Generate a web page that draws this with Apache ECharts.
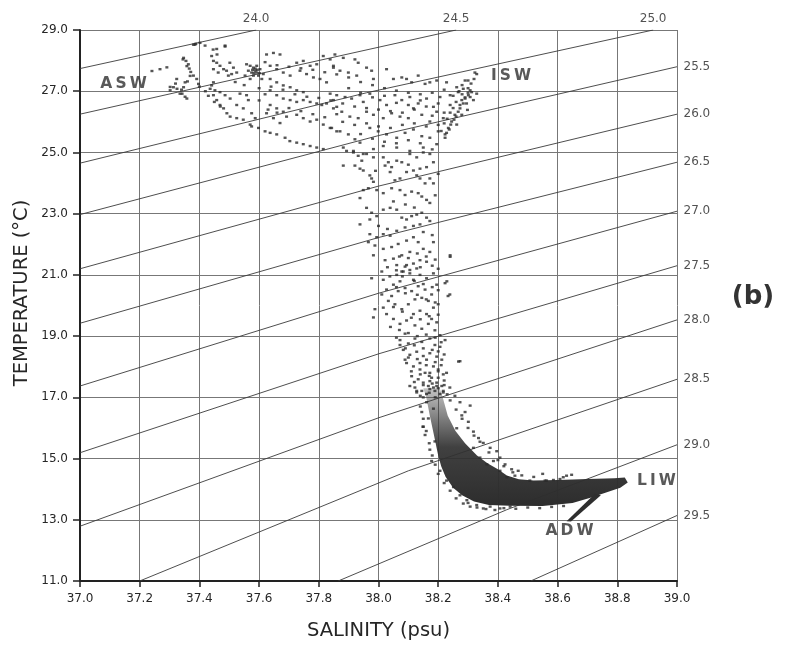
<!DOCTYPE html>
<html><head><meta charset="utf-8">
<script src="https://cdn.jsdelivr.net/npm/echarts/dist/echarts.min.js"></script>
<style>html,body{margin:0;padding:0;background:#fff}#c{width:797px;height:646px}</style>
</head><body><div id="c"></div>
<script>
// ---- axis extents / ticks ----
const salinityRange = [37.0, 39.0];
const salinityStep = 0.2;
const temperatureRange = [11.0, 29.0];
const temperatureStep = 2.0;

// ---- isopycnal (sigma-t) lines as [S, T] vertices ----
const sigmaLabels = ['24.0','24.5','25.0','25.5','26.0','26.5','27.0','27.5','28.0','28.5','29.0','29.5'];
const isopycnals = [
  [[37.0,27.74],[37.59,29.0]],
  [[37.0,26.25],[37.6,27.57],[38.26,29.0]],
  [[37.0,24.65],[37.96,26.95],[38.92,29.0]],
  [[37.0,22.97],[38.0,25.55],[39.0,27.8]],
  [[37.0,21.2],[38.0,23.9],[39.0,26.25]],
  [[37.0,19.42],[38.0,22.22],[39.0,24.68]],
  [[37.0,17.37],[38.0,20.40],[39.0,23.08]],
  [[37.0,15.19],[38.0,18.42],[39.0,21.3]],
  [[37.0,12.79],[38.0,16.33],[39.0,19.53]],
  [[37.2,11.0],[38.1,14.6],[39.0,17.59]],
  [[37.865,11.0],[38.43,13.33],[39.0,15.45]],
  [[38.51,11.0],[39.0,13.14]]
];

// ---- water mass labels ----
const waterMassNames = ['A\u2009S\u2009W','I\u2009S\u2009W','L\u2009I\u2009W','A\u2009D\u2009W'];
const waterMassPos = [[37.146,27.24],[38.444,27.51],[38.931,14.28],[38.640,12.62]];

// ---- dense core (outline of the dark mass: bend + LIW tongue) and ADW tail ----
const denseCore = [[38.150,17.3],[38.160,17.0],[38.172,16.4],[38.185,15.8],[38.200,15.1],[38.210,14.75],[38.225,14.40],[38.250,14.05],[38.280,13.80],[38.320,13.60],[38.370,13.48],[38.440,13.46],[38.550,13.45],[38.650,13.55],[38.710,13.72],[38.765,13.90],[38.810,14.05],[38.835,14.22],[38.825,14.38],[38.790,14.36],[38.700,14.33],[38.600,14.30],[38.520,14.28],[38.470,14.32],[38.430,14.45],[38.400,14.65],[38.365,14.85],[38.330,15.10],[38.290,15.5],[38.258,15.9],[38.232,16.4],[38.215,17.0],[38.205,17.3]];
const adwTail = [[38.725,13.85],[38.745,13.80],[38.645,12.94],[38.630,12.95]];

// ---- scattered CTD samples [S, T] ----
const surfacePoints = [
[37.241,27.66],[37.268,27.72],[37.291,27.78],[37.302,27.14],[37.325,27.08],[37.342,26.92],[37.352,26.82],[37.345,28.04],[37.358,27.82],[37.369,27.5],[37.385,28.52],[37.402,28.58],[37.446,28.36],[37.459,28.2],[37.486,28.46],
[37.380,28.52],[37.419,28.49],[37.458,28.38],[37.486,28.49],[37.388,28.55],
[37.347,28.09],[37.355,27.99],[37.363,27.88],[37.366,27.74],[37.371,27.63],[37.380,27.51],[37.391,27.40],[37.397,27.24],[37.324,27.40],[37.352,27.29],[37.347,27.13],[37.313,27.13],[37.302,27.03],[37.335,26.92],[37.358,26.76],
[37.441,28.15],[37.447,27.99],[37.458,27.93],[37.469,27.83],[37.481,27.72],[37.447,27.72],[37.463,27.61],[37.491,27.67],[37.497,27.51],[37.508,27.56],[37.525,27.61],[37.514,27.77],[37.502,27.93],
[37.558,27.88],[37.570,27.83],[37.581,27.77],[37.587,27.67],[37.592,27.61],[37.575,27.61],[37.598,27.51],[37.564,27.67],[37.603,27.72],[37.581,27.51],[37.609,27.40],[37.553,27.51],[37.570,27.40],[37.614,27.56],[37.592,27.83],[37.587,27.74],[37.594,27.70],[37.578,27.70],[37.601,27.59],[37.583,27.59],
[37.436,27.08],[37.447,26.87],[37.458,26.71],[37.469,26.55],[37.481,26.44],[37.492,26.28],[37.503,26.17],[37.525,26.12],[37.547,26.07],[37.570,25.91],[37.447,27.29],[37.441,27.19],[37.452,27.03],[37.469,26.97],[37.486,26.87],[37.503,26.76],[37.536,26.92],[37.558,26.87],[37.564,26.71],[37.525,26.55],[37.547,26.44],[37.575,26.28],[37.587,26.12],
[37.575,25.85],[37.598,25.80],[37.620,25.69],[37.637,25.64],[37.659,25.59],[37.687,25.48],[37.703,25.37],[37.726,25.32],[37.748,25.27],[37.771,25.21],[37.793,25.16],[37.815,25.11],
[37.625,28.20],[37.648,28.25],[37.670,28.20],[37.637,27.83],[37.659,27.72],[37.681,27.61],[37.704,27.51],[37.726,27.93],[37.748,27.99],[37.771,27.83],[37.793,27.88],[37.815,28.15],[37.838,28.04],[37.849,27.83],[37.737,27.67],[37.759,27.56],[37.782,27.45],[37.804,27.40],[37.826,27.29],
[37.637,27.40],[37.659,27.29],[37.681,27.19],[37.704,27.13],[37.726,27.03],[37.748,26.97],[37.637,27.03],[37.659,26.87],[37.681,26.76],[37.704,26.71],[37.726,26.65],[37.748,26.71],[37.771,26.65],[37.793,26.60],[37.810,26.55],[37.826,26.60],[37.849,26.71],[37.860,26.49],
[37.637,26.55],[37.659,26.44],[37.681,26.33],[37.692,26.17],[37.726,26.23],[37.748,26.12],[37.771,26.01],[37.793,26.07],[37.815,25.91],[37.838,25.80],[37.860,25.69],[37.648,26.12],[37.670,25.96],[37.625,26.28],
[37.854,28.20],[37.882,28.09],[37.921,28.04],[37.932,27.93],[37.849,27.77],[37.871,27.67],[37.899,27.61],[37.927,27.51],[37.960,27.77],[37.977,27.67],[37.983,27.40],[38.027,27.72],[38.050,27.40],[38.078,27.45],[38.094,27.40],[38.111,27.29],[38.133,27.51],[38.156,27.24],[38.172,27.29],[38.195,27.35],[38.228,27.29],[38.262,27.13],[38.284,27.08],[38.307,27.03],[38.323,27.61],[38.290,27.35],[38.329,27.56],[38.300,27.35],
[37.838,26.92],[37.860,26.87],[37.888,26.81],[37.910,26.76],[37.938,26.87],[37.949,26.65],[37.971,26.92],[38.005,26.71],[38.027,26.55],[38.055,26.87],[38.078,26.71],[38.105,26.81],[38.133,26.60],[38.161,26.76],[38.184,26.49],[38.206,26.81],[38.240,26.87],[38.267,26.97],[38.279,26.71],[38.295,26.60],[38.307,26.81],[38.273,26.44],[38.256,26.23],[38.245,26.01],[38.234,25.80],[38.223,25.59],
[37.849,26.44],[37.877,26.33],[37.904,26.17],[37.932,26.12],[37.960,26.33],[37.983,26.23],[38.016,26.12],[38.044,26.28],[38.072,26.17],[38.100,26.12],[38.117,26.44],[38.145,26.23],[38.172,26.01],[38.195,26.33],[38.217,26.12],
[37.843,25.80],[37.871,25.69],[37.899,25.59],[37.921,25.43],[37.938,25.32],[37.971,25.80],[37.999,25.69],[38.027,25.59],[38.061,25.48],[38.089,25.64],[38.117,25.75],[38.145,25.53],[38.172,25.48],[38.200,25.69],[38.195,25.27],[38.150,25.16],[38.105,25.05],[38.061,25.16],[38.016,25.21],[37.983,25.11],[37.916,25.05],[37.882,25.16],[37.949,24.95],
[38.312,26.97],[38.301,26.87],[38.290,26.76],[38.284,26.60],[38.273,26.55],[38.267,26.33],[38.260,26.17],[38.253,26.07],[38.242,25.91],[38.237,25.75],[38.228,25.64],[38.223,25.48],[38.329,26.92],[38.318,26.71],[38.298,26.39],[38.279,26.23],[38.262,25.91],
[37.62,27.95],[37.66,27.85],[37.70,27.80],[37.74,27.75],[37.78,27.70],[37.82,27.62],[37.86,27.55],[37.90,27.45],[37.94,27.30],[37.98,27.20],[38.02,27.10],[38.06,27.02],[38.10,26.95],[38.14,26.90],[38.18,26.95],[38.22,27.05],
[37.64,27.15],[37.68,27.05],[37.72,26.90],[37.76,26.82],[37.80,26.78],[37.84,26.70],[37.88,26.60],[37.92,26.50],[37.96,26.45],[38.00,26.40],[38.04,26.35],[38.08,26.30],[38.12,26.40],[38.16,26.50],[38.20,26.60],
[37.90,27.10],[37.94,26.95],[37.98,26.80],[38.02,26.85],[38.06,26.62],[38.10,26.55],[38.14,26.70],[38.18,26.20],[38.22,26.30],[38.24,26.55],
[37.88,26.0],[37.92,25.90],[37.96,25.95],[38.00,25.85],[38.04,25.80],[38.08,25.90],[38.12,25.95],[38.16,25.85],[38.20,25.90],[37.94,25.60],[37.98,25.45],[38.02,25.35],[38.06,25.30],[38.10,25.40],[38.14,25.30],[38.18,25.10],
[37.52,27.30],[37.55,27.20],[37.60,27.10],[37.62,26.90],[37.60,26.70],[37.63,26.40],[37.66,26.30],[37.70,26.45],[37.74,26.35],[37.78,26.25],[37.82,26.15],[37.86,26.25],
[37.36,27.32],[37.40,27.15],[37.42,27.00],[37.43,26.85],[37.45,26.65],[37.47,26.50],[37.32,27.25],[37.34,27.05],
[38.30,27.10],[38.31,27.25],[38.32,27.40],[38.28,27.20],[38.27,27.00],[38.25,26.85],[38.26,26.65],[38.25,26.45],[38.24,26.30],[38.23,26.10],[38.22,25.95],[38.21,25.70],[38.30,26.95],[38.29,26.80],[38.28,26.90]
];
const columnPoints = [
[37.893,25.05],[37.916,25.00],[37.932,24.89],[37.944,24.73],[37.921,24.57],[37.938,24.47],[37.949,24.41],[37.882,24.57],[37.960,24.95],[37.983,24.84],[38.016,24.84],[38.033,24.68],[38.044,24.52],[38.061,24.73],[38.078,24.68],[38.105,24.95],[38.128,24.84],[38.150,25.00],[38.172,24.95],[38.184,24.68],[38.161,24.52],[38.139,24.47],[38.117,24.41],[38.094,24.36],[38.072,24.15],[38.055,24.09],[38.039,24.36],[38.022,24.57],
[37.971,24.25],[37.977,24.15],[37.983,24.04],[37.966,23.83],[37.949,23.77],[37.938,23.51],[37.994,23.77],[38.016,23.67],[38.044,23.83],[38.072,23.77],[38.089,23.61],[38.111,23.72],[38.133,23.67],[38.145,23.56],[38.161,23.45],[38.172,23.35],[38.184,23.99],[38.172,24.15],[38.156,23.99],[38.139,24.15],[38.128,24.25],
[37.960,23.19],[37.977,23.03],[37.994,22.92],[37.971,22.81],[37.938,22.65],[38.016,23.13],[38.039,23.19],[38.061,23.13],[38.078,22.87],[38.094,22.81],[38.111,22.92],[38.128,22.97],[38.145,23.03],[38.161,22.87],[38.172,22.76],[38.139,22.65],[38.117,22.60],[38.089,22.55],[38.061,22.44],[38.039,22.28],[38.016,22.33],[37.994,22.23],[37.971,22.33],
[37.966,22.07],[37.988,21.96],[38.016,21.85],[38.044,21.91],[38.066,22.01],[38.094,22.12],[38.117,22.23],[38.133,22.07],[38.150,21.85],[38.172,21.75],[38.184,22.07],[38.105,21.75],[38.078,21.64],[38.050,21.53],[38.022,21.48],[38.061,21.32],[38.089,21.27],[38.117,21.37],[38.139,21.48],[38.161,21.43],[38.105,21.05],[38.078,21.11],[38.240,21.59],[38.011,21.11],[37.983,21.64],[38.24,21.64],[38.229,20.79],[38.233,20.31],
[37.977,20.89],[38.016,20.84],[38.038,20.95],[38.061,21.00],[38.083,21.11],[38.105,21.16],[38.128,21.21],[38.094,21.32],[38.139,21.00],[38.161,20.89],[38.184,21.05],[38.117,20.84],[38.072,20.79],[38.050,20.68],[38.027,20.52],[38.011,20.36],[38.044,20.31],[38.066,20.47],[38.089,20.57],[38.111,20.47],[38.133,20.63],[38.156,20.52],[38.178,20.36],[38.195,20.68],[38.223,20.73],[38.239,20.36],
[37.988,19.88],[37.983,19.61],[38.016,19.93],[38.033,20.15],[38.055,20.04],[38.078,19.88],[38.100,20.04],[38.122,20.20],[38.145,20.25],[38.167,20.15],[38.184,19.93],[38.200,20.04],[38.117,19.72],[38.139,19.83],[38.161,19.72],[38.178,19.56],[38.195,19.45],[38.094,19.51],[38.072,19.40],[38.050,19.56],[38.027,19.72],
[38.122,19.35],[38.145,19.24],[38.167,19.40],[38.189,19.19],[38.206,19.03],[38.089,19.08],[38.072,18.87],[38.100,18.76],[38.122,18.92],[38.145,18.81],[38.172,18.92],[38.189,18.71],[38.206,18.65],[38.223,18.87],[38.083,18.55],[38.105,18.39],[38.128,18.49],[38.150,18.60],[38.172,18.44],[38.195,18.33],[38.212,18.23],
[38.094,18.12],[38.117,18.01],[38.139,18.12],[38.161,18.23],[38.184,18.01],[38.200,17.91],[38.217,17.75],[38.111,17.69],[38.133,17.59],[38.156,17.80],[38.178,17.64],[38.195,17.48],[38.212,17.37],[38.122,17.32],[38.145,17.21],[38.167,17.37],[38.189,17.21],[38.206,17.11],[38.268,18.17],[38.228,17.80],[38.072,18.71],[38.089,18.23],[38.273,18.18],
[38.150,17.48],[38.172,17.53],[38.200,17.64],[38.184,17.32],[38.161,17.11],[38.128,17.16],[38.217,17.21],[38.139,17.91],[38.172,17.80],
[38.08,20.95],[38.12,20.80],[38.15,20.70],[38.18,20.60],[38.20,20.50],[38.06,20.60],[38.09,20.40],[38.13,20.35],[38.16,20.20],[38.19,20.10],[38.05,19.95],[38.08,19.80],[38.11,19.60],[38.14,19.55],[38.17,19.65],[38.20,19.70],[38.04,19.30],[38.07,19.20],[38.10,19.10],[38.13,19.00],[38.16,19.05],[38.19,18.95],[38.21,18.80],[38.06,18.95],[38.09,18.60],[38.12,18.70],[38.15,18.35],[38.18,18.55],[38.20,18.50],[38.22,18.40],[38.10,18.30],[38.13,18.25],[38.16,18.05],[38.19,18.15],[38.21,18.05],[38.11,17.85],[38.14,17.75],[38.17,17.70],[38.20,17.85],[38.22,17.55],[38.12,17.50],[38.15,17.40],[38.18,17.45],[38.20,17.30],[38.22,17.40],[38.14,17.05],[38.17,17.15],[38.19,17.00],[38.23,17.10],
[38.07,21.60],[38.10,21.55],[38.13,21.70],[38.16,21.60],[38.19,21.50],[38.03,21.25],[38.06,21.15],[38.14,21.25],[38.18,21.30],[38.20,21.20],
[38.00,22.60],[38.03,22.50],[38.15,22.40],[38.18,22.30],[38.05,23.40],[38.09,23.30],[38.12,23.20],[38.19,23.60],[37.99,24.40],[38.10,24.60],[38.20,24.30]
];
const bendPoints = [
[38.105,17.37],[38.128,17.21],[38.150,17.00],[38.172,17.27],[38.195,17.37],[38.217,17.16],[38.239,17.32],[38.256,17.05],[38.273,16.84],[38.307,16.73],[38.290,16.52],[38.279,16.41],[38.301,16.20],[38.150,16.04],[38.262,15.99],[38.318,15.88],[38.335,15.67],[38.351,15.51],[38.374,15.35],[38.396,15.24],[38.407,15.03],[38.424,14.81],[38.446,14.65],[38.468,14.60],[38.457,14.44],[38.507,14.28],[38.558,14.28],
[38.172,15.29],[38.178,14.92],[38.206,14.60],[38.228,14.28],[38.251,14.07],[38.273,13.80],[38.296,13.64],[38.329,13.48],[38.351,13.37],[38.374,13.43],[38.407,13.37],[38.441,13.43],
[38.161,16.84],[38.145,16.52],[38.184,16.63],[38.167,16.31],[38.189,15.56],[38.156,15.77],[38.318,15.35],[38.340,15.03],[38.363,14.81],[38.385,14.92],[38.407,14.60],[38.430,14.39],[38.307,13.43],[38.284,13.53],[38.149,16.04],
[38.619,14.39],[38.630,14.44],[38.647,14.47],[38.608,14.33],[38.563,14.28],[38.586,14.30],
[38.24,16.90],[38.26,16.60],[38.28,16.30],[38.30,16.00],[38.32,15.75],[38.34,15.55],[38.37,15.20],[38.40,14.95],[38.42,14.75],[38.45,14.55],[38.48,14.45],[38.52,14.40],[38.55,14.50],[38.30,13.55],[38.33,13.40],[38.36,13.35],[38.39,13.32],[38.42,13.38],[38.46,13.36],[38.50,13.40],[38.54,13.38],[38.58,13.42],[38.62,13.45],[38.26,13.70],[38.24,13.95],[38.22,14.20],[38.20,14.50],[38.19,14.80],[38.18,15.10],[38.17,15.50],[38.16,15.90],[38.15,16.30],[38.14,16.70]
];

const FONT = 'DejaVu Sans';
const TXT = '#262626';

const chart = echarts.init(document.getElementById('c'), null, {renderer:'canvas'});

function polygonSeries(verts, fill){
  return {
    type:'custom', silent:true, z:3, data: verts,
    renderItem: function(params, api){
      if (params.dataIndex !== 0) return null;
      const pts = verts.map(v => api.coord(v));
      return {type:'polygon', shape:{points:pts}, style:{fill:fill}};
    }
  };
}

const series = [];
isopycnals.forEach((line) => {
  series.push({type:'line', data: line, symbol:'none', silent:true, z:2,
    lineStyle:{color:'#3a3a3a', width:0.9}, animation:false});
});
series.push({type:'scatter', silent:true, z:5, symbolSize:1,
  itemStyle:{color:'rgba(0,0,0,0)'},
  data: isopycnals.map((line, i) => {
    const end = line[line.length-1];
    const top = end[1] >= temperatureRange[1];
    return {value:end, label:{show:true, formatter:sigmaLabels[i], position: top ? 'top':'right', distance: top ? 5 : 6,
      fontFamily:FONT, fontSize:12, color:TXT}};
  })
});
const coreFill = new echarts.graphic.LinearGradient(0, 0, 0, 1, [
  {offset:0, color:'rgba(60,60,60,0.30)'},
  {offset:0.3, color:'rgba(55,55,55,0.70)'},
  {offset:0.5, color:'rgba(48,48,48,0.92)'},
  {offset:1, color:'rgba(45,45,45,1)'}
]);
series.push(polygonSeries(denseCore, coreFill));
series.push(polygonSeries(adwTail, '#2e2e2e'));
[surfacePoints, columnPoints, bendPoints].forEach(arr => {
  series.push({type:'scatter', data:arr, symbol:'rect', symbolSize:[3,2.4], silent:true, z:4,
    itemStyle:{color:'#2b2b2b'}, animation:false});
});
series.push({type:'scatter', silent:true, z:6, symbolSize:1, itemStyle:{color:'rgba(0,0,0,0)'},
  data: waterMassPos.map((p, i) => ({value:p, label:{show:true, formatter:waterMassNames[i], position:'inside',
    fontFamily:FONT, fontWeight:'bold', fontSize:15.5, color:'#303030'}}))
});

chart.setOption({
  animation:false,
  backgroundColor:'#ffffff',
  grid:{left:80, top:30, width:597, height:562.5, containLabel:false},
  xAxis:{type:'value', min:salinityRange[0], max:salinityRange[1], interval:salinityStep,
    axisLine:{show:true, onZero:false, lineStyle:{color:'#222', width:2}},
    axisTick:{show:true, length:6, lineStyle:{color:'#222', width:1.5}},
    axisLabel:{formatter:v=>v.toFixed(1), margin:12, fontFamily:FONT, fontSize:12, color:TXT},
    splitLine:{show:true, lineStyle:{color:'#777', width:1}},
    name:'SALINITY (psu)', nameLocation:'middle', nameGap:40,
    nameTextStyle:{fontFamily:FONT, fontSize:19.5, color:TXT}},
  yAxis:{type:'value', min:temperatureRange[0], max:temperatureRange[1], interval:temperatureStep,
    axisLine:{show:true, onZero:false, lineStyle:{color:'#222', width:2}},
    axisTick:{show:true, length:7, lineStyle:{color:'#222', width:1.5}},
    axisLabel:{formatter:v=>v.toFixed(1), margin:12, fontFamily:FONT, fontSize:12, color:TXT},
    splitLine:{show:true, lineStyle:{color:'#777', width:1}}},
  graphic:[
    {type:'text', x:22, y:293, rotation:Math.PI/2,
      style:{text:'TEMPERATURE (°C)', font:'19.5px "DejaVu Sans"', fill:TXT, textAlign:'center', textVerticalAlign:'middle', align:'center', verticalAlign:'middle'}},
    {type:'text', x:753, y:297,
      style:{text:'(b)', font:'bold 26px "DejaVu Sans"', fill:'#333', textAlign:'center', textVerticalAlign:'middle', align:'center', verticalAlign:'middle'}}
  ],
  series: series
});
</script></body></html>
